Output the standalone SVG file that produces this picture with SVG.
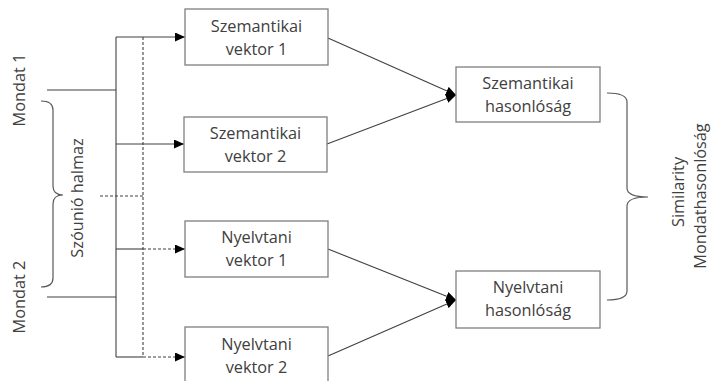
<svg xmlns="http://www.w3.org/2000/svg" width="711" height="381" viewBox="0 0 711 381">
<style>
.box{fill:#fff;stroke:#7f7f7f;stroke-width:1.3}
.t{font-family:"Open Sans","Liberation Sans",sans-serif;font-size:16.3px;fill:#404040;text-anchor:middle}
.ln{fill:none;stroke:#404040;stroke-width:1.1}
.dash{fill:none;stroke:#404040;stroke-width:1.1;stroke-dasharray:3,2}
.brace{fill:none;stroke:#595959;stroke-width:1.2}
</style>
<defs>
<marker id="ah" markerUnits="userSpaceOnUse" markerWidth="10" markerHeight="9" refX="10" refY="4.5" orient="auto">
<path d="M0,0 L10,4.5 L0,9 z" fill="#000"/>
</marker>
</defs>
<rect width="711" height="381" fill="#fff"/>
<g id="connectors">
<line class="ln" x1="47" y1="90" x2="116" y2="90"/>
<line class="ln" x1="47" y1="297" x2="116" y2="297"/>
<line class="ln" x1="116" y1="37" x2="116" y2="357"/>
<line class="dash" x1="143" y1="37" x2="143" y2="357"/>
<line class="dash" x1="100" y1="196" x2="143" y2="196"/>
<line class="ln" x1="116" y1="37" x2="185" y2="37" marker-end="url(#ah)"/>
<line class="ln" x1="116" y1="144" x2="184" y2="144" marker-end="url(#ah)"/>
<line class="ln" x1="116" y1="249" x2="143" y2="249"/>
<line class="dash" x1="143" y1="249" x2="185" y2="249" marker-end="url(#ah)"/>
<line class="ln" x1="116" y1="357" x2="143" y2="357"/>
<line class="dash" x1="143" y1="357" x2="185" y2="357" marker-end="url(#ah)"/>
<line class="ln" x1="328" y1="38" x2="456" y2="95" marker-end="url(#ah)"/>
<line class="ln" x1="327" y1="144" x2="456" y2="95" marker-end="url(#ah)"/>
<line class="ln" x1="328" y1="249" x2="456" y2="300" marker-end="url(#ah)"/>
<line class="ln" x1="328" y1="356" x2="456" y2="300" marker-end="url(#ah)"/>
</g>
<g id="mondat1"><text class="t" transform="translate(25,90) rotate(-90)">Mondat 1</text></g>
<g id="mondat2"><text class="t" transform="translate(25,297) rotate(-90)">Mondat 2</text></g>
<g id="szounio">
<path class="brace" d="M41,101 Q53,101 53,110 L53,186 Q53,195 63,195 Q53,195 53,204 L53,278 Q53,287 41,287"/>
<text class="t" transform="translate(83,198) rotate(-90)">Szóunió halmaz</text>
</g>
<g id="szem1"><rect class="box" x="185" y="9" width="143" height="56"/>
<text class="t" x="256.5" y="32">Szemantikai</text><text class="t" x="256.5" y="55">vektor 1</text></g>
<g id="szem2"><rect class="box" x="184" y="117" width="143" height="55"/>
<text class="t" x="255.5" y="139">Szemantikai</text><text class="t" x="255.5" y="162">vektor 2</text></g>
<g id="nyelv1"><rect class="box" x="185" y="221" width="143" height="56"/>
<text class="t" x="256.5" y="243">Nyelvtani</text><text class="t" x="256.5" y="266">vektor 1</text></g>
<g id="nyelv2"><rect class="box" x="185" y="327" width="143" height="60"/>
<text class="t" x="256.5" y="350">Nyelvtani</text><text class="t" x="256.5" y="373">vektor 2</text></g>
<g id="szemhas"><rect class="box" x="456" y="67" width="144" height="55"/>
<text class="t" x="528" y="89">Szemantikai</text><text class="t" x="528" y="112">hasonlóság</text></g>
<g id="nyelvhas"><rect class="box" x="456" y="271" width="144" height="57"/>
<text class="t" x="528" y="293">Nyelvtani</text><text class="t" x="528" y="316">hasonlóság</text></g>
<g id="similarity">
<path class="brace" d="M607,93 Q627,93 627,102 L627,188 Q627,197 648,197 Q627,197 627,206 L627,291 Q627,300 607,300"/>
<text class="t" transform="translate(684,192) rotate(-90)">Similarity</text>
<text class="t" transform="translate(706,196) rotate(-90)">Mondathasonlóság</text>
</g>
</svg>
